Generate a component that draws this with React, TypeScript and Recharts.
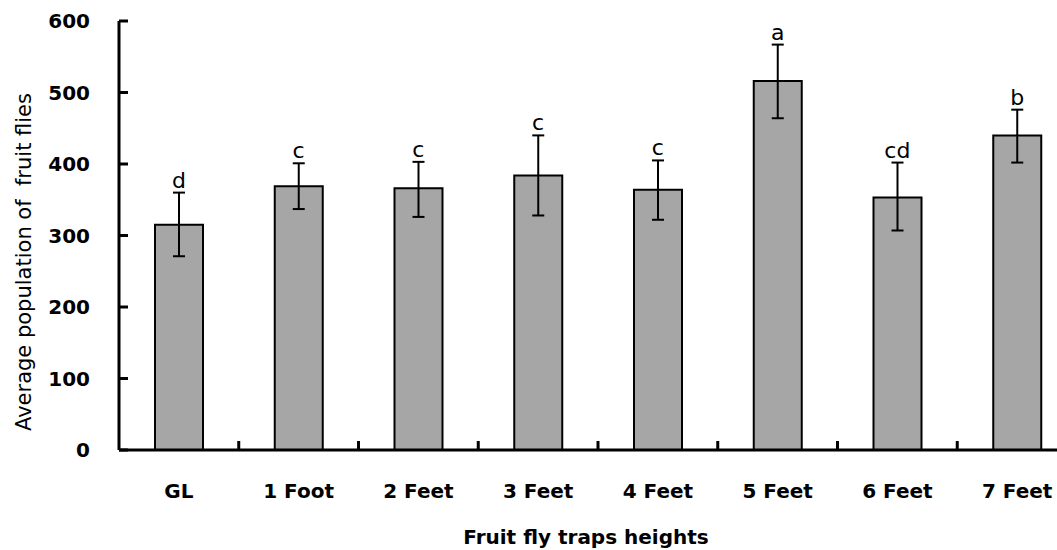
import React from 'react';
import { ComposedChart, Bar, Line, XAxis, YAxis, ErrorBar, LabelList } from 'recharts';

const categories = ['GL', '1 Foot', '2 Feet', '3 Feet', '4 Feet', '5 Feet', '6 Feet', '7 Feet'];
const means = [315, 369, 366, 384, 364, 516, 353, 440];
const upperValues = [360, 401, 403, 440, 405, 567, 402, 476];
const lowerValues = [271, 337, 326, 328, 322, 464, 307, 402];
const letters = ['d', 'c', 'c', 'c', 'c', 'a', 'cd', 'b'];
const yTicks = [0, 100, 200, 300, 400, 500, 600];

const data = categories.map((cat, i) => ({
  cat,
  mean: means[i],
  err: [means[i] - lowerValues[i], upperValues[i] - means[i]],
  upper: upperValues[i],
  letter: letters[i],
}));

const FONT = '"DejaVu Sans", sans-serif';

const XTick = (props: any) => {
  const { x, y, payload } = props;
  const off = payload.offset || 0;
  return (
    <g>
      <line x1={x + off} x2={x + off} y1={y} y2={y - 9} stroke="#000" strokeWidth={3} />
      <text x={x} y={y + 48} textAnchor="middle" fontFamily={FONT} fontWeight="bold" fontSize={20} fill="#000">
        {payload.value}
      </text>
    </g>
  );
};

const YTick = (props: any) => {
  const { x, y, payload } = props;
  return (
    <g>
      <line x1={x} x2={x + 9} y1={y} y2={y} stroke="#000" strokeWidth={3} />
      <text x={x - 29} y={y + 7} textAnchor="end" fontFamily={FONT} fontWeight="bold" fontSize={20} fill="#000">
        {payload.value}
      </text>
    </g>
  );
};

const LetterLabel = (props: any) => {
  const { x, y, value } = props;
  return (
    <text x={x} y={y - 5} textAnchor="middle" fontFamily={FONT} fontSize={22} fill="#000">
      {value}
    </text>
  );
};

export default function App() {
  return (
    <div style={{ position: 'fixed', left: 0, top: 0, width: 1057, height: 550, overflow: 'hidden', background: '#fff' }}>
      <ComposedChart
        width={1080}
        height={550}
        data={data}
        margin={{ top: 21, right: 3, bottom: 0, left: 0 }}
      >
        <XAxis
          dataKey="cat"
          interval={0}
          tickLine={false}
          tickSize={0}
          tickMargin={0}
          axisLine={{ stroke: '#000', strokeWidth: 3 }}
          tick={<XTick />}
          height={100}
        />
        <YAxis
          domain={[0, 600]}
          ticks={yTicks}
          interval={0}
          tickLine={false}
          tickSize={0}
          tickMargin={0}
          axisLine={{ stroke: '#000', strokeWidth: 3 }}
          tick={<YTick />}
          width={119}
        />
        <Bar dataKey="mean" fill="#A6A6A6" stroke="#000" strokeWidth={2} barSize={48} isAnimationActive={false}>
          <ErrorBar dataKey="err" width={6} stroke="#000" strokeWidth={2} direction="y" />
        </Bar>
        <Line dataKey="upper" stroke="none" dot={false} activeDot={false} isAnimationActive={false}>
          <LabelList dataKey="letter" content={<LetterLabel />} />
        </Line>
      </ComposedChart>
      <svg width={1057} height={550} style={{ position: 'absolute', left: 0, top: 0, pointerEvents: 'none' }}>
        <text
          x={586}
          y={544}
          textAnchor="middle"
          fontFamily={FONT}
          fontWeight="bold"
          fontSize={20}
          fill="#000"
        >
          Fruit fly traps heights
        </text>
        <text
          transform="translate(31, 262) rotate(-90)"
          textAnchor="middle"
          fontFamily={FONT}
          fontSize={21}
          fill="#000"
          xmlSpace="preserve"
        >
          Average population of  fruit flies
        </text>
      </svg>
    </div>
  );
}
